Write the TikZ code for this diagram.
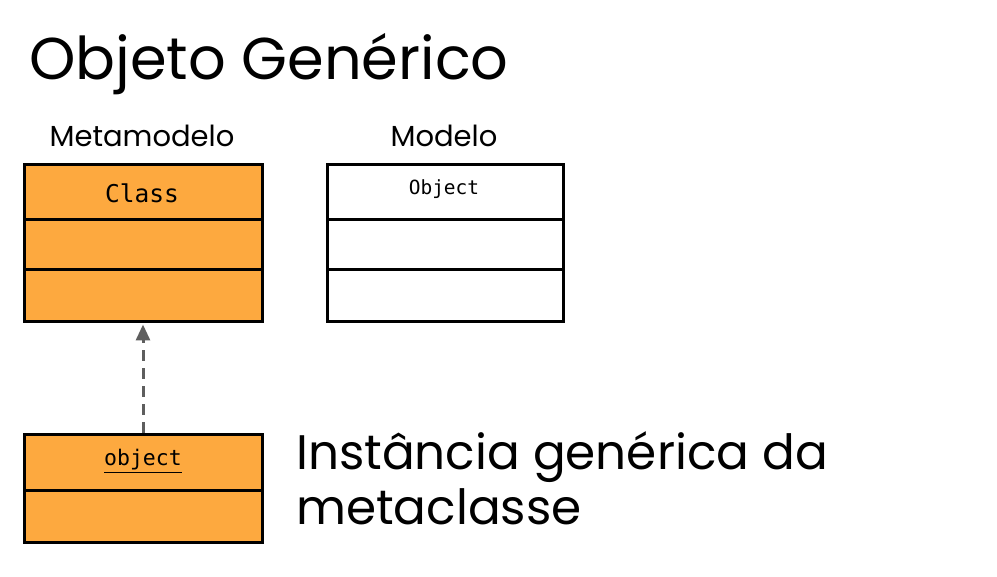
\documentclass[tikz,border=0pt]{standalone}
\usepackage{fontspec}
\setmainfont{Poppins}
\setmonofont{DejaVu Sans Mono}
\usetikzlibrary{arrows.meta}
\definecolor{boxorange}{HTML}{FDA93F}
\definecolor{arrowgray}{HTML}{5E5E5E}
\tikzset{
  umlbox/.style={draw=black, line width=3pt, minimum width=238pt, inner sep=0pt, anchor=north west},
  divider/.style={draw=black, line width=3pt},
  lbl/.style={font=\fontsize{29}{32}\selectfont, anchor=base},
}
\begin{document}
\begin{tikzpicture}[x=1pt,y=-1pt]
\useasboundingbox (0,0) rectangle (997,577);
\node[anchor=base west, inner sep=0pt, font=\fontsize{59}{70}\selectfont] (title) at (29,80) {Objeto Genérico};
\node[lbl] (lmeta) at (142,147) {Metamodelo};
\node[lbl] (lmod) at (444,147) {Modelo};
% Class box
\node[umlbox, fill=boxorange, minimum height=157pt] (cls) at (23,163) {};
\draw[divider] (23,220) -- (261,220);
\draw[divider] (23,270) -- (261,270);
\node[font=\ttfamily\fontsize{24.5}{26}\selectfont] (clsname) at (142,193) {Class};
% Object box
\node[umlbox, fill=white, minimum width=236pt, minimum height=157pt] (obj) at (326,163) {};
\draw[divider] (326,220) -- (562,220);
\draw[divider] (326,270) -- (562,270);
\node[font=\ttfamily\fontsize{19.5}{22}\selectfont] (objname) at (444,189) {Object};
% instance box
\node[umlbox, fill=boxorange, minimum height=108pt] (inst) at (23,433) {};
\draw[divider] (23,491) -- (261,491);
\node[font=\ttfamily\fontsize{21.5}{24}\selectfont] (instname) at (143,461) {\underline{object}};
% arrow
\draw[arrowgray, line width=3pt, dash pattern=on 11pt off 7pt, -{Triangle[length=16pt,width=14pt]}, shorten >=1.5pt] (inst.north -| 143,0) -- (cls.south -| 143,0);
\node[anchor=base west, inner sep=0pt, align=left, font=\fontsize{48.5}{55}\selectfont] (desc) at (296,525) {Instância genérica da\\metaclasse};
\end{tikzpicture}
\end{document}
